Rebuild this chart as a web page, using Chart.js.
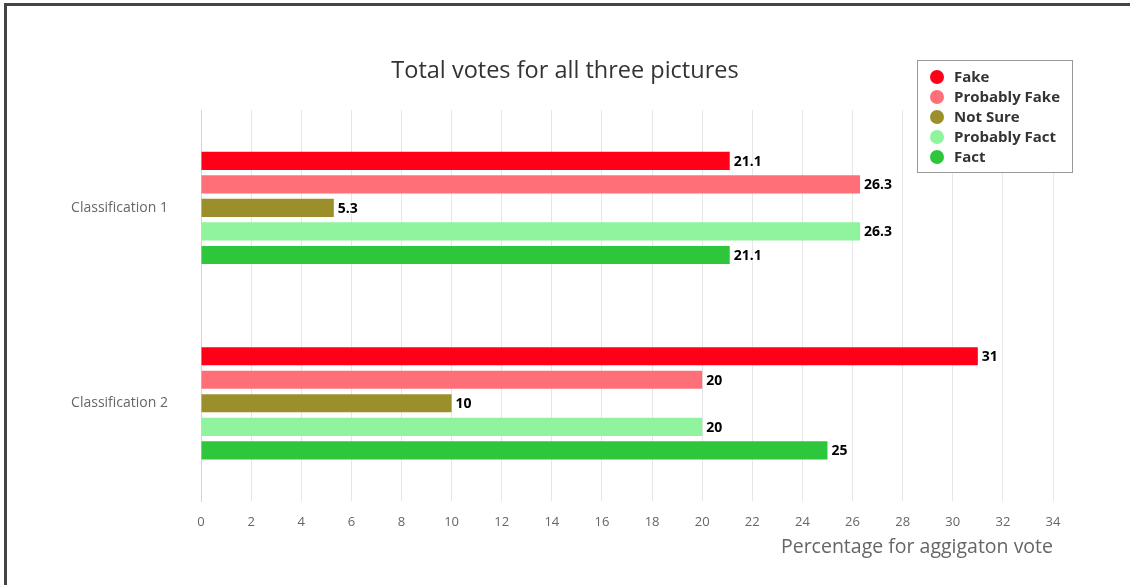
<!DOCTYPE html>
<html>
<head>
<meta charset="utf-8">
<script src="https://cdn.jsdelivr.net/npm/chart.js@4.4.1/dist/chart.umd.min.js"></script>
<style>
  body { margin: 0; background: #fff; overflow: hidden; }
  #wrap { position: absolute; left: 0; top: 0; width: 1130px; height: 585px; }
  #frame { position: absolute; left: 4px; top: 3px; width: 2000px; height: 2000px;
           border: 3px solid #444; pointer-events: none; }
</style>
</head>
<body>
<div id="wrap"><canvas id="myChart" width="1130" height="585"></canvas></div>
<div id="frame"></div>
<script>
// setup
const categories = ['Classification 1', 'Classification 2'];
const seriesNames = ['Fake', 'Probably Fake', 'Not Sure', 'Probably Fact', 'Fact'];
const fake = [21.1, 31];
const probablyFake = [26.3, 20];
const notSure = [5.3, 10];
const probablyFact = [26.3, 20];
const fact = [21.1, 25];
const colors = ['#ff0018', '#ff6f78', '#9b8f2b', '#8ff49d', '#2ec63b'];

const FONT = "'Open Sans', 'DejaVu Sans', sans-serif";

const data = {
  labels: categories,
  datasets: [fake, probablyFake, notSure, probablyFact, fact].map((vals, i) => ({
    label: seriesNames[i],
    data: vals,
    backgroundColor: colors[i],
    borderWidth: 0,
    categoryPercentage: 0.602,
    barPercentage: 0.77
  }))
};

// value labels at the end of each bar
const barValues = {
  id: 'barValues',
  afterDatasetsDraw(chart) {
    const { ctx } = chart;
    ctx.save();
    ctx.font = 'bold 14px ' + FONT;
    ctx.textBaseline = 'middle';
    ctx.textAlign = 'left';
    ctx.lineJoin = 'round';
    chart.data.datasets.forEach((ds, i) => {
      chart.getDatasetMeta(i).data.forEach((bar, j) => {
        const txt = String(ds.data[j]);
        ctx.lineWidth = 3;
        ctx.strokeStyle = '#fff';
        ctx.strokeText(txt, bar.x + 4, bar.y + 1);
        ctx.fillStyle = '#000';
        ctx.fillText(txt, bar.x + 4, bar.y + 1);
      });
    });
    ctx.restore();
  }
};

// floating legend box, top right
const boxLegend = {
  id: 'boxLegend',
  afterDraw(chart) {
    const { ctx } = chart;
    const x = 917.5, y = 60.5, w = 155, h = 112;
    ctx.save();
    ctx.fillStyle = '#fff';
    ctx.fillRect(x, y, w, h);
    ctx.strokeStyle = '#999';
    ctx.lineWidth = 1;
    ctx.strokeRect(x, y, w, h);
    ctx.font = 'bold 15px ' + FONT;
    ctx.textBaseline = 'middle';
    chart.data.datasets.forEach((ds, i) => {
      const cy = 77 + i * 20;
      ctx.beginPath();
      ctx.arc(937, cy, 7, 0, Math.PI * 2);
      ctx.fillStyle = ds.backgroundColor;
      ctx.fill();
      ctx.fillStyle = '#333';
      ctx.fillText(ds.label, 954, cy + 1);
    });
    ctx.restore();
  }
};

// config
const config = {
  type: 'bar',
  data,
  options: {
    indexAxis: 'y',
    responsive: false,
    animation: false,
    layout: { padding: 0 },
    plugins: {
      legend: { display: false },
      tooltip: { enabled: false },
      title: {
        display: true,
        text: 'Total votes for all three pictures',
        color: '#333',
        font: { family: FONT, size: 23.5, weight: 'normal' },
        padding: { top: 57, bottom: 25 }
      }
    },
    scales: {
      x: {
        min: 0,
        max: 34,
        ticks: { stepSize: 2, color: '#666', padding: 13, font: { family: FONT, size: 13 } },
        grid: { color: '#e6e6e6', drawTicks: false },
        border: { display: false },
        title: {
          display: true,
          text: 'Percentage for aggigaton vote',
          align: 'end',
          color: '#666',
          font: { family: FONT, size: 19.5 },
          padding: { top: 0, bottom: 25.5 }
        },
        afterFit(scale) { scale.height = 84; }
      },
      y: {
        ticks: { color: '#666', padding: 33, font: { family: FONT, size: 14 } },
        grid: { display: false, drawTicks: false },
        border: { display: true, color: '#ccd6eb', width: 1 },
        afterFit(scale) { scale.width = 201; }
      },
      // empty right-hand margin so the title stays centred on the page
      yRight: {
        axis: 'y',
        position: 'right',
        ticks: { display: false },
        grid: { display: false, drawTicks: false },
        border: { display: false },
        afterFit(scale) { scale.width = 77; }
      }
    }
  },
  plugins: [barValues, boxLegend]
};

// render init block
const myChart = new Chart(document.getElementById('myChart'), config);
</script>
</body>
</html>
